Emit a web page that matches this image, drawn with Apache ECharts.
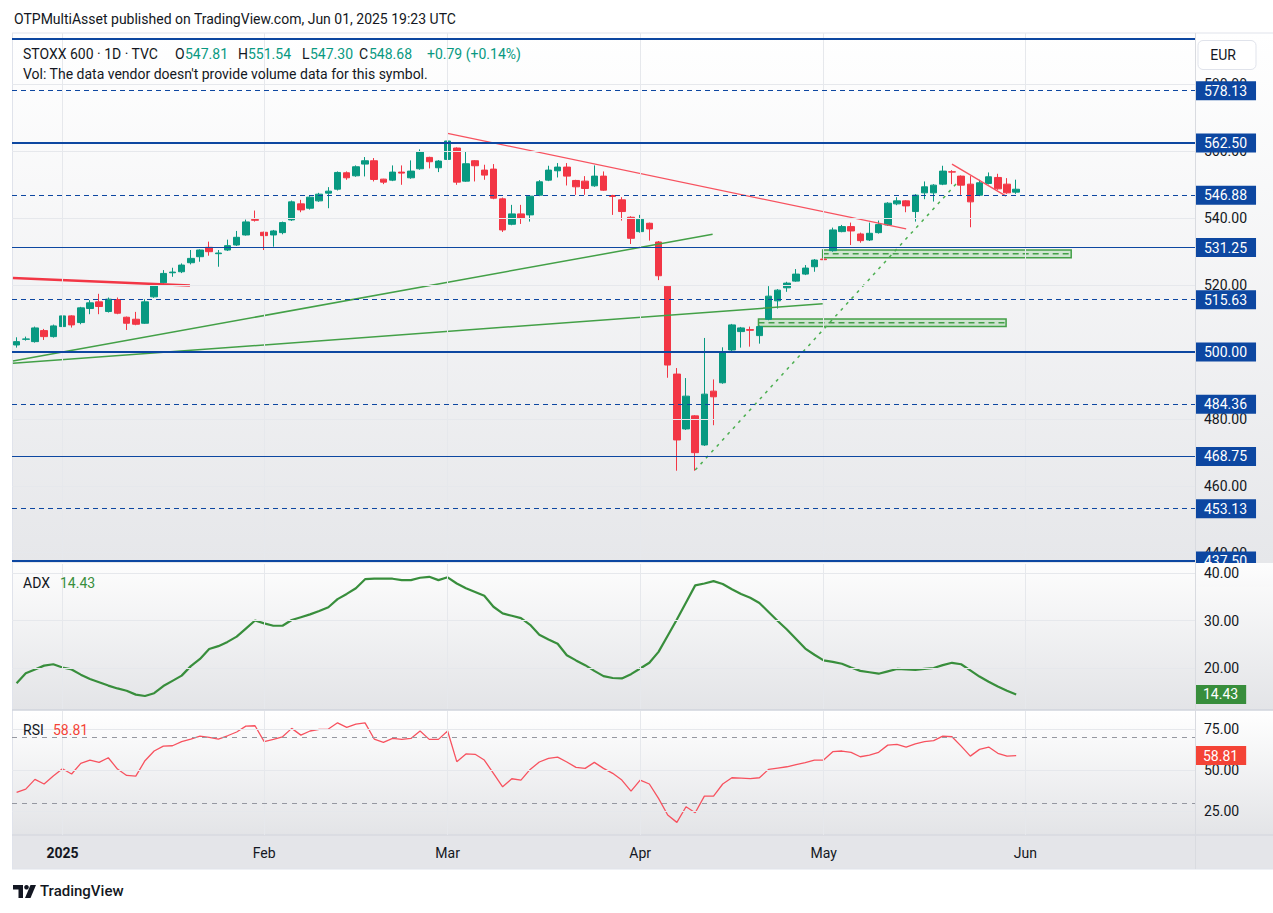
<!DOCTYPE html>
<html>
<head>
	<meta charset="utf-8">
	<title>STOXX 600</title>
	<style>
		html,
		body {
			margin: 0;
			background: #ffffff;
		}
		#main {
			width: 1273px;
			height: 913px;
		}
	</style>
</head>
<body>
	<div id="main"></div>
	<script src="https://cdn.jsdelivr.net/npm/echarts@6/dist/echarts.min.js"></script>
	<script>
		// trading sessions per month (Jun is empty space on the right)
		var tradingDays = [
			['2024-12', [23, 24, 27, 30, 31]],
			['2025-01', [2, 3, 6, 7, 8, 9, 10, 13, 14, 15, 16, 17, 20, 21, 22, 23, 24, 27, 28, 29, 30, 31]],
			['2025-02', [3, 4, 5, 6, 7, 10, 11, 12, 13, 14, 17, 18, 19, 20, 21, 24, 25, 26, 27, 28]],
			['2025-03', [3, 4, 5, 6, 7, 10, 11, 12, 13, 14, 17, 18, 19, 20, 21, 24, 25, 26, 27, 28, 31]],
			['2025-04', [1, 2, 3, 4, 7, 8, 9, 10, 11, 14, 15, 16, 17, 22, 23, 24, 25, 28, 29, 30]],
			['2025-05', [1, 2, 5, 6, 7, 8, 9, 12, 13, 14, 15, 16, 19, 20, 21, 22, 23, 26, 27, 28, 29, 30]],
			['2025-06', [2, 3, 4, 5, 6, 9, 10, 11, 12, 13, 16, 17, 18, 19, 20, 23, 24, 25, 26]]
		];
		var monthStarts = ['2025-01-02', '2025-02-03', '2025-03-03', '2025-04-01', '2025-05-01', '2025-06-02'];
		var monthNames = ['2025', 'Feb', 'Mar', 'Apr', 'May', 'Jun'];

		var openPrices = [
			502.1, 503.8, 503.1, 506.4, 504.6, 507.6, 510.8, 508.8, 513.0, 515.0,
			512.1, 515.7, 510.4, 509.8, 508.6, 516.5, 520.7, 523.7, 524.0, 526.7,
			528.5, 531.3, 529.4, 530.5, 532.0, 535.0, 539.6, 535.8, 535.0, 535.7,
			539.5, 544.3, 543.0, 545.2, 547.5, 548.7, 553.6, 552.7, 556.2, 557.2,
			551.7, 551.4, 553.8, 552.1, 554.8, 558.2, 555.1, 557.6, 561.0, 551.1,
			557.2, 554.4, 554.7, 545.8, 538.2, 541.3, 541.0, 546.9, 551.4, 554.2,
			555.3, 551.3, 551.1, 549.7, 552.6, 546.8, 545.5, 540.3, 536.0, 538.5,
			532.9, 519.7, 493.4, 477.0, 480.9, 472.2, 488.3, 490.8, 500.6, 506.1,
			506.7, 504.9, 509.8, 515.3, 519.2, 521.2, 523.3, 525.5, 527.8, 530.3,
			536.0, 537.5, 535.3, 533.5, 535.7, 538.0, 544.3, 545.2, 542.0, 547.6,
			547.6, 550.2, 553.9, 552.6, 550.2, 546.9, 550.4, 552.2, 550.2, 547.81
		];
		var closePrices = [
			503.1, 503.9, 507.2, 504.6, 507.8, 510.8, 508.1, 513.2, 514.7, 513.6,
			515.8, 511.6, 508.6, 508.3, 515.0, 520.0, 523.5, 523.9, 526.0, 528.0,
			530.5, 530.0, 529.6, 531.8, 534.3, 538.9, 539.4, 534.8, 536.2, 538.7,
			544.9, 542.5, 546.3, 547.2, 548.1, 553.7, 552.1, 555.4, 557.2, 551.6,
			550.8, 553.8, 553.5, 554.1, 559.8, 556.9, 557.1, 563.1, 550.8, 556.3,
			555.7, 552.9, 546.0, 536.5, 541.3, 540.1, 546.6, 550.9, 554.4, 555.3,
			552.6, 549.4, 548.9, 552.6, 548.4, 546.5, 542.0, 534.0, 539.7, 536.8,
			522.8, 496.1, 473.7, 486.8, 469.9, 487.4, 486.6, 500.1, 508.1, 507.2,
			506.5, 507.6, 516.7, 518.5, 520.6, 523.3, 525.1, 527.5, 527.6, 536.5,
			537.5, 536.2, 533.3, 535.5, 538.1, 544.5, 545.2, 543.7, 546.9, 549.4,
			549.9, 554.1, 553.8, 549.9, 544.9, 550.6, 552.4, 548.8, 547.6, 548.68
		];
		var lowPrices = [
			501.3, 503.4, 502.8, 503.6, 504.3, 506.1, 507.3, 508.3, 511.3, 511.3,
			511.8, 511.3, 506.6, 508.0, 508.4, 516.2, 520.4, 522.5, 523.6, 526.2,
			527.0, 528.8, 525.5, 530.2, 531.7, 534.8, 539.0, 530.5, 531.5, 535.2,
			539.2, 541.8, 542.6, 544.9, 543.0, 548.3, 551.5, 552.4, 552.5, 551.0,
			550.2, 551.1, 550.0, 551.8, 554.5, 554.9, 553.8, 556.4, 550.0, 550.9,
			551.0, 551.5, 545.7, 535.9, 537.9, 538.3, 539.0, 546.6, 551.1, 552.2,
			549.8, 547.0, 547.0, 549.4, 548.2, 541.0, 539.3, 532.3, 535.7, 533.3,
			521.5, 492.3, 464.5, 476.7, 464.5, 471.9, 478.1, 490.5, 500.3, 501.3,
			501.6, 502.5, 509.5, 513.0, 518.0, 521.0, 523.0, 524.0, 527.3, 530.0,
			535.8, 532.0, 532.7, 533.2, 535.4, 537.7, 543.9, 541.8, 539.0, 545.7,
			545.0, 549.9, 550.2, 547.0, 537.3, 546.6, 550.1, 548.5, 547.3, 547.30
		];
		var highPrices = [
			504.4, 504.6, 507.6, 506.9, 508.2, 511.2, 511.0, 513.5, 515.5, 517.4,
			516.3, 516.3, 510.6, 512.0, 515.8, 520.4, 524.5, 525.2, 526.5, 530.5,
			530.7, 533.0, 530.5, 533.6, 536.2, 539.6, 542.3, 536.0, 536.5, 539.0,
			545.3, 545.5, 546.6, 547.6, 549.3, 554.0, 554.0, 555.8, 558.3, 558.0,
			551.8, 555.8, 555.8, 557.3, 560.6, 558.4, 557.4, 565.4, 561.2, 560.0,
			557.4, 556.0, 556.2, 546.2, 544.0, 544.0, 546.9, 551.4, 555.7, 556.5,
			556.5, 551.5, 552.6, 555.8, 554.0, 547.0, 546.3, 540.6, 541.0, 538.7,
			533.2, 520.0, 495.2, 492.2, 481.1, 504.2, 491.8, 501.4, 508.4, 507.5,
			507.6, 507.9, 519.7, 518.8, 521.0, 524.8, 526.0, 527.8, 528.4, 537.2,
			538.0, 538.7, 535.7, 538.7, 539.3, 544.8, 546.3, 545.4, 547.2, 551.0,
			550.2, 555.7, 554.4, 552.8, 552.6, 551.5, 553.7, 553.3, 552.0, 551.54
		];
		var adxValues = [
			16.8, 18.9, 19.7, 20.5, 20.8, 20.1, 19.7, 18.6, 17.7, 17.0,
			16.3, 15.7, 15.2, 14.4, 14.1, 14.7, 16.2, 17.3, 18.4, 20.4,
			21.9, 24.0, 24.6, 25.5, 26.6, 28.3, 30.0, 29.4, 28.9, 28.9,
			30.1, 30.7, 31.3, 32.0, 32.8, 34.5, 35.6, 36.8, 38.7, 38.8,
			38.8, 38.8, 38.5, 38.5, 39.0, 39.2, 38.5, 39.1, 37.8, 36.8,
			36.0, 35.2, 32.9, 31.5, 31.0, 30.5, 29.1, 27.0, 26.0, 25.1,
			22.7, 21.6, 20.6, 19.4, 18.3, 17.9, 17.8, 18.7, 19.9, 21.1,
			23.4, 26.8, 30.2, 33.8, 37.4, 37.8, 38.3, 37.7, 36.6, 35.6,
			34.8, 33.7, 31.8, 29.9, 28.1, 26.1, 24.1, 22.8, 21.6, 21.3,
			20.9, 20.1, 19.4, 19.1, 18.8, 19.3, 19.8, 19.7, 19.6, 19.8,
			20.0, 20.6, 21.1, 20.8, 19.5, 18.2, 17.1, 16.1, 15.2, 14.43
		];
		var rsiValues = [
			36.4, 38.4, 44.3, 41.5, 46.3, 50.8, 47.6, 54.1, 56.1, 54.7,
			57.5, 50.6, 46.7, 46.3, 55.7, 61.6, 64.6, 64.8, 67.3, 68.9,
			70.7, 69.9, 68.9, 70.9, 73.2, 76.8, 77.0, 67.3, 68.7, 70.3,
			75.4, 71.3, 73.8, 74.8, 75.0, 78.8, 76.0, 78.0, 78.8, 68.9,
			66.9, 69.3, 68.7, 69.3, 73.8, 68.7, 68.7, 73.8, 55.1, 59.8,
			59.6, 56.1, 48.0, 39.8, 44.7, 43.9, 50.4, 54.9, 57.1, 57.9,
			54.9, 51.6, 51.0, 54.7, 51.0, 48.0, 43.9, 37.2, 43.9, 41.5,
			32.7, 22.6, 18.1, 27.6, 24.0, 34.1, 34.1, 41.5, 45.3, 45.1,
			44.8, 45.3, 50.4, 51.2, 52.0, 53.3, 54.5, 56.1, 56.1, 61.2,
			61.6, 60.8, 58.1, 59.1, 60.8, 65.2, 65.7, 64.0, 66.0, 67.3,
			67.9, 70.7, 70.3, 64.6, 58.5, 62.6, 64.0, 60.2, 58.5, 58.81
		];

		var priceTicks = [440, 460, 480, 500, 520, 540, 560, 580];
		var adxTicks = [20, 30, 40];
		var rsiTicks = [25, 50, 75];
		var rsiBands = [70, 30];

		var fibLevels = [593.75, 578.13, 562.50, 546.88, 531.25, 515.63, 500.00, 484.36, 468.75, 453.13, 437.50];
		var fibLabels = ['', '578.13', '562.50', '546.88', '531.25', '515.63', '500.00', '484.36', '468.75', '453.13', '437.50'];
		var fibKinds = ['thick', 'dashed', 'thick', 'dashed', 'thin', 'dashed', 'thick', 'dashed', 'thin', 'dashed', 'thick'];

		// drawings: [bar index, price]
		var redThickLine = [[-0.4, 522.1], [18.9, 519.9]];
		var redFallLine = [[47.0, 565.4], [97.0, 536.8]];
		var redShortLine = [[102.0, 556.2], [107.9, 546.6]];
		var greenLineA = [[-0.4, 497.3], [75.9, 535.2]];
		var greenLineB = [[-0.4, 496.6], [87.9, 514.4]];
		var greenDashLine = [[74.0, 464.7], [102.5, 550.4]];
		var zoneUpper = [[87.9, 528.2], [115.0, 530.5]];
		var zoneLower = [[80.9, 507.6], [107.9, 509.9]];

		var lastAdx = '14.43';
		var lastRsi = '58.81';

		var dates = [];
		for(var m = 0; m < tradingDays.length; m++) {
			var days = tradingDays[m][1];
			for(var d = 0; d < days.length; d++) {
				dates.push(tradingDays[m][0] + '-' + (days[d] < 10 ? '0' : '') + days[d]);
			}
		}
		var candleData = [];
		for(var i = 0; i < openPrices.length; i++) {
			candleData.push([openPrices[i], closePrices[i], lowPrices[i], highPrices[i]]);
		}

		var FONT = 'Roboto, "Noto Sans", sans-serif';
		var BLUE = '#0D47A1';
		var UP = '#089981';
		var DOWN = '#F23645';
		var TEXT = '#131722';

		var monthLines = monthStarts.map(function(d) {
			return { xAxis: d };
		});
		var gridLine = function(ticks) {
			return monthLines.concat(ticks.map(function(v) {
				return { yAxis: v };
			}));
		};
		var bg = function(top, bottom) {
			return new echarts.graphic.LinearGradient(0, 0, 0, 1, [
				{ offset: 0, color: top },
				{ offset: 1, color: bottom }
			]);
		};
		var midOf = function(zone) {
			var mid = (zone[0][1] + zone[1][1]) / 2;
			return [[zone[0][0], mid], [zone[1][0], mid]];
		};

		var fibData = fibLevels.map(function(v, k) {
			var kind = fibKinds[k];
			return {
				yAxis: v,
				lineStyle: {
					color: BLUE,
					width: kind == 'thick' ? 2.2 : 1.2,
					type: kind == 'dashed' ? [5, 4] : 'solid'
				},
				label: {
					show: fibLabels[k] != '',
					formatter: fibLabels[k]
				}
			};
		});

		var xBase = function(gridIndex, showLabel) {
			return {
				type: 'category',
				gridIndex: gridIndex,
				data: dates,
				boundaryGap: true,
				axisLine: { show: false },
				axisTick: { show: false },
				splitLine: { show: false },
				axisLabel: {
					show: showLabel,
					interval: function(idx, value) {
						return monthStarts.indexOf(value) >= 0;
					},
					formatter: function(value) {
						var name = monthNames[monthStarts.indexOf(value)];
						return name == '2025' ? '{b|' + name + '}' : name;
					},
					rich: { b: { fontWeight: 'bold', fontSize: 14, fontFamily: FONT, color: TEXT } },
					color: TEXT,
					fontSize: 14,
					fontFamily: FONT,
					margin: 11
				}
			};
		};
		var yBase = function(gridIndex, min, max, ticks, z) {
			return {
				type: 'value',
				gridIndex: gridIndex,
				position: 'right',
				min: min,
				max: max,
				z: z || 0,
				axisLine: { show: false },
				axisTick: { show: false },
				splitLine: { show: false },
				axisLabel: {
					customValues: ticks,
					formatter: function(v) { return v.toFixed(2); },
					color: TEXT,
					fontSize: 14,
					fontFamily: FONT,
					margin: 9
				}
			};
		};
		var valueLabel = function(text, color) {
			return {
				symbol: 'none',
				silent: true,
				animation: false,
				lineStyle: { color: 'transparent', width: 0 },
				label: {
					position: 'end',
					distance: 0,
					formatter: text,
					color: '#ffffff',
					fontSize: 14,
					fontFamily: FONT,
					backgroundColor: color,
					padding: [3, 8, 2, 8]
				},
				data: [{ yAxis: parseFloat(text) }]
			};
		};
		var drawing = function(data, color, width, type) {
			return {
				type: 'line',
				xAxisIndex: 3,
				yAxisIndex: 0,
				data: data,
				symbol: 'none',
				silent: true,
				z: 4,
				lineStyle: { color: color, width: width, type: type || 'solid' }
			};
		};
		var zone = function(data) {
			return {
				type: 'line',
				xAxisIndex: 3,
				yAxisIndex: 0,
				data: midOf(data),
				symbol: 'none',
				silent: true,
				z: 3,
				lineStyle: { color: '#43A047', width: 1.5, type: [6, 4] },
				markArea: {
					silent: true,
					itemStyle: { color: 'rgba(76,175,80,0.22)', borderColor: '#43A047', borderWidth: 1.5 },
					data: [[{ coord: data[0] }, { coord: data[1] }]]
				}
			};
		};

		var myChart = echarts.init(document.getElementById('main'), null, { renderer: 'svg' });
		var option = {
			animation: false,
			backgroundColor: '#ffffff',
			grid: [
				{ left: 12, right: 78, top: 33, height: 530 },
				{ left: 12, right: 78, top: 564, height: 145 },
				{ left: 12, right: 78, top: 711, height: 124 }
			],
			xAxis: [
				xBase(0, false),
				xBase(1, false),
				xBase(2, true),
				{ type: 'value', gridIndex: 0, min: -0.5, max: dates.length - 0.5, show: false }
			],
			yAxis: [
				yBase(0, 436.9, 595.4, priceTicks),
				yBase(1, 11.37, 41.9, adxTicks, 8),
				yBase(2, 10.4, 86.0, rsiTicks)
			],
			graphic: [
				{ type: 'rect', z: -10, silent: true, shape: { x: 12, y: 33, width: 1261, height: 530 }, style: { fill: bg('#ffffff', '#e6e7ea') } },
				{ type: 'rect', z: -10, silent: true, shape: { x: 12, y: 563, width: 1261, height: 147 }, style: { fill: bg('#fdfdfd', '#e3e4e7') } },
				{ type: 'rect', z: -10, silent: true, shape: { x: 12, y: 711, width: 1261, height: 124 }, style: { fill: bg('#ffffff', '#e3e4e7') } },
				{ type: 'rect', z: -10, silent: true, shape: { x: 12, y: 835, width: 1261, height: 34 }, style: { fill: '#e4e5e9' } },
				// ADX axis strip drawn over the bottom price tag, like the pane edge cutting it
				{ type: 'rect', z: 7, silent: true, shape: { x: 1196, y: 563, width: 77, height: 24 }, style: { fill: bg('#fdfdfd', '#f8f8f9') } },
				{ type: 'line', z: -5, silent: true, shape: { x1: 12, y1: 33, x2: 1273, y2: 33 }, style: { stroke: '#e0e3eb', lineWidth: 1 } },
				{ type: 'line', z: -5, silent: true, shape: { x1: 12.5, y1: 33, x2: 12.5, y2: 869 }, style: { stroke: '#e0e3eb', lineWidth: 1 } },
				{ type: 'line', z: 7, silent: true, shape: { x1: 1195.5, y1: 33, x2: 1195.5, y2: 869 }, style: { stroke: '#d9dbe0', lineWidth: 1 } },
				{ type: 'line', z: -5, silent: true, shape: { x1: 12, y1: 710, x2: 1273, y2: 710 }, style: { stroke: '#d1d4dc', lineWidth: 1.5 } },
				{ type: 'line', z: -5, silent: true, shape: { x1: 12, y1: 835, x2: 1273, y2: 835 }, style: { stroke: '#d1d4dc', lineWidth: 1 } },
				{ type: 'line', z: -5, silent: true, shape: { x1: 12, y1: 869, x2: 1273, y2: 869 }, style: { stroke: '#e0e3eb', lineWidth: 1 } },

				{ type: 'text', z: 10, x: 14, y: 19, style: { text: 'OTPMultiAsset published on TradingView.com, Jun 01, 2025 19:23 UTC', font: '14px ' + FONT, fill: TEXT, verticalAlign: 'middle' } },
				{ type: 'text', z: 10, x: 23, y: 54, style: { text: 'STOXX 600 · 1D · TVC', font: '14px ' + FONT, fill: TEXT, verticalAlign: 'middle' } },
				{ type: 'text', z: 10, x: 175, y: 54, style: { text: 'O', font: '14px ' + FONT, fill: TEXT, verticalAlign: 'middle' } },
				{ type: 'text', z: 10, x: 185, y: 54, style: { text: '547.81', font: '14px ' + FONT, fill: UP, verticalAlign: 'middle' } },
				{ type: 'text', z: 10, x: 238, y: 54, style: { text: 'H', font: '14px ' + FONT, fill: TEXT, verticalAlign: 'middle' } },
				{ type: 'text', z: 10, x: 248, y: 54, style: { text: '551.54', font: '14px ' + FONT, fill: UP, verticalAlign: 'middle' } },
				{ type: 'text', z: 10, x: 302, y: 54, style: { text: 'L', font: '14px ' + FONT, fill: TEXT, verticalAlign: 'middle' } },
				{ type: 'text', z: 10, x: 310, y: 54, style: { text: '547.30', font: '14px ' + FONT, fill: UP, verticalAlign: 'middle' } },
				{ type: 'text', z: 10, x: 359, y: 54, style: { text: 'C', font: '14px ' + FONT, fill: TEXT, verticalAlign: 'middle' } },
				{ type: 'text', z: 10, x: 369, y: 54, style: { text: '548.68', font: '14px ' + FONT, fill: UP, verticalAlign: 'middle' } },
				{ type: 'text', z: 10, x: 427, y: 54, style: { text: '+0.79 (+0.14%)', font: '14px ' + FONT, fill: UP, verticalAlign: 'middle' } },
				{ type: 'text', z: 10, x: 23, y: 74, style: { text: "Vol: The data vendor doesn't provide volume data for this symbol.", font: '14px ' + FONT, fill: TEXT, verticalAlign: 'middle' } },
				{ type: 'text', z: 10, x: 23, y: 583, style: { text: 'ADX', font: '14px ' + FONT, fill: TEXT, verticalAlign: 'middle' } },
				{ type: 'text', z: 10, x: 60, y: 583, style: { text: lastAdx, font: '14px ' + FONT, fill: '#388E3C', verticalAlign: 'middle' } },
				{ type: 'text', z: 10, x: 23, y: 730, style: { text: 'RSI', font: '14px ' + FONT, fill: TEXT, verticalAlign: 'middle' } },
				{ type: 'text', z: 10, x: 53, y: 730, style: { text: lastRsi, font: '14px ' + FONT, fill: '#F44336', verticalAlign: 'middle' } },

				{ type: 'rect', z: 10, silent: true, shape: { x: 1198, y: 40.5, width: 58, height: 29, r: 5 }, style: { fill: '#ffffff', stroke: '#e0e3eb', lineWidth: 1 } },
				{ type: 'text', z: 11, x: 1223, y: 55, style: { text: 'EUR', font: '14px ' + FONT, fill: TEXT, align: 'center', verticalAlign: 'middle' } },

				{ type: 'polygon', z: 10, silent: true, shape: { points: [[13, 885], [23, 885], [23, 898], [18.5, 898], [18.5, 889.5], [13, 889.5]] }, style: { fill: TEXT } },
				{ type: 'circle', z: 10, silent: true, shape: { cx: 26.5, cy: 887.3, r: 2.3 }, style: { fill: TEXT } },
				{ type: 'polygon', z: 10, silent: true, shape: { points: [[30.5, 885], [36, 885], [30.5, 898], [25, 898]] }, style: { fill: TEXT } },
				{ type: 'text', z: 10, x: 40, y: 891, style: { text: 'TradingView', font: '500 15px ' + FONT, fill: TEXT, verticalAlign: 'middle' } }
			],
			series: [
				{
					type: 'line', xAxisIndex: 0, yAxisIndex: 0, data: [], z: 1, silent: true,
					markLine: { symbol: 'none', silent: true, animation: false, label: { show: false }, lineStyle: { color: '#e6e8ec', width: 1, type: 'solid' }, data: gridLine(priceTicks) }
				},
				{
					type: 'line', xAxisIndex: 1, yAxisIndex: 1, data: [], z: 1, silent: true,
					markLine: { symbol: 'none', silent: true, animation: false, label: { show: false }, lineStyle: { color: '#e6e8ec', width: 1, type: 'solid' }, data: gridLine(adxTicks) }
				},
				{
					type: 'line', xAxisIndex: 2, yAxisIndex: 2, data: [], z: 1, silent: true,
					markLine: { symbol: 'none', silent: true, animation: false, label: { show: false }, lineStyle: { color: '#e6e8ec', width: 1, type: 'solid' }, data: gridLine(rsiTicks) }
				},
				{
					type: 'candlestick',
					xAxisIndex: 0,
					yAxisIndex: 0,
					data: candleData,
					barWidth: 7,
					z: 2,
					itemStyle: { color: UP, color0: DOWN, borderColor: UP, borderColor0: DOWN, borderWidth: 1 }
				},
				zone(zoneUpper),
				zone(zoneLower),
				drawing(greenLineA, '#43A047', 1.5),
				drawing(greenLineB, '#43A047', 1.5),
				drawing(greenDashLine, '#4CAF50', 1.5, [3, 5]),
				drawing(redThickLine, '#F23645', 2.5),
				drawing(redFallLine, '#F7525F', 1.3),
				drawing(redShortLine, '#F7525F', 1.3),
				{
					type: 'line', xAxisIndex: 0, yAxisIndex: 0, data: [], z: 5, silent: true,
					markLine: {
						symbol: 'none',
						silent: true,
						animation: false,
						label: {
							position: 'end',
							distance: 0,
							color: '#ffffff',
							fontSize: 14,
							fontFamily: FONT,
							backgroundColor: BLUE,
							padding: [3, 9, 2, 9]
						},
						data: fibData
					}
				},
				{
					type: 'line',
					xAxisIndex: 1,
					yAxisIndex: 1,
					data: adxValues,
					symbol: 'none',
					z: 3,
					lineStyle: { color: '#388E3C', width: 2.2 },
					markLine: valueLabel(lastAdx, '#388E3C')
				},
				{
					type: 'line', xAxisIndex: 2, yAxisIndex: 2, data: [], z: 2, silent: true,
					markLine: {
						symbol: 'none', silent: true, animation: false, label: { show: false },
						lineStyle: { color: '#9598a1', width: 1, type: [5, 5] },
						data: rsiBands.map(function(v) { return { yAxis: v }; })
					}
				},
				{
					type: 'line',
					xAxisIndex: 2,
					yAxisIndex: 2,
					data: rsiValues,
					symbol: 'none',
					z: 3,
					lineStyle: { color: '#F7525F', width: 1.3 },
					markLine: valueLabel(lastRsi, '#F44336')
				}
			]
		};
		myChart.setOption(option);
	</script>
</body>
</html>
